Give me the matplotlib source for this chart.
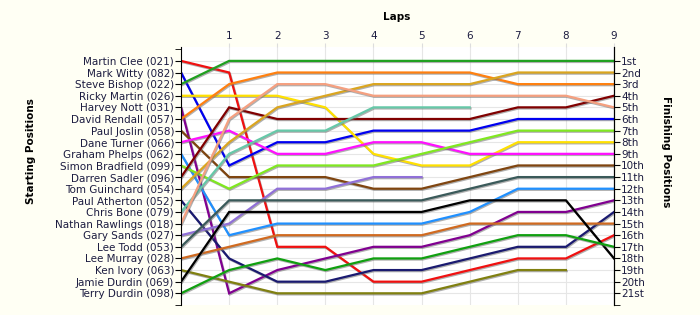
import numpy as np
import matplotlib
matplotlib.use("Agg")
from matplotlib import pyplot as plt
import matplotlib.patheffects as pe

# starting grid (top to bottom)
drivers = ["Martin Clee (021)", "Mark Witty (082)", "Steve Bishop (022)", "Ricky Martin (026)",
           "Harvey Nott (031)", "David Rendall (057)", "Paul Joslin (058)", "Dane Turner (066)",
           "Graham Phelps (062)", "Simon Bradfield (099)", "Darren Sadler (096)", "Tom Guinchard (054)",
           "Paul Atherton (052)", "Chris Bone (079)", "Nathan Rawlings (018)", "Gary Sands (027)",
           "Lee Todd (053)", "Lee Murray (028)", "Ken Ivory (063)", "Jamie Durdin (069)",
           "Terry Durdin (098)"]
finish_labels = ["1st", "2nd", "3rd", "4th", "5th", "6th", "7th", "8th", "9th", "10th", "11th",
                 "12th", "13th", "14th", "15th", "16th", "17th", "18th", "19th", "20th", "21st"]
laps = [1, 2, 3, 4, 5, 6, 7, 8, 9]

# position at lap 0..n for each driver (shorter list = retired)
clee = [1, 2, 17, 17, 20, 20, 19, 18, 18, 16]
witty = [2, 10, 8, 8, 7, 7, 7, 6, 6, 6]
bishop = [3, 1, 1, 1, 1, 1, 1, 1, 1, 1]
martin = [4, 4, 4, 5, 9, 10, 10, 8, 8, 8]
nott = [5, 21, 19, 18, 17, 17, 16, 14, 14, 13]
rendall = [6, 3, 2, 2, 2, 2, 2, 3, 3, 3]
joslin = [7, 11, 11, 11, 12, 12, 11, 10, 10, 10]
turner = [8, 7, 9, 9, 8, 8, 9, 9, 9, 9]
phelps = [9, 16, 15, 15, 15, 15, 14, 12, 12, 12]
bradfield = [10, 12, 10, 10, 10, 9, 8, 7, 7, 7]
sadler = [11, 5, 6, 6, 6, 6, 6, 5, 5, 4]
guinchard = [12, 8, 5, 4, 3, 3, 3, 2, 2, 2]
atherton = [13, 18, 20, 20, 19, 19, 18, 17, 17, 14]
bone = [14, 9, 7, 7, 5, 5, 5]
rawlings = [15, 6, 3, 3, 4, 4, 4, 4, 4, 5]
sands = [16, 15, 12, 12, 11, 11]
todd = [17, 13, 13, 13, 13, 13, 12, 11, 11, 11]
murray = [18, 17, 16, 16, 16, 16, 15, 15, 15, 15]
ivory = [19, 20, 21, 21, 21, 21, 20, 19, 19]
jdurdin = [20, 14, 14, 14, 14, 14, 13, 13, 13, 18]
tdurdin = [21, 19, 18, 19, 18, 18, 17, 16, 16, 17]

series = [clee, witty, bishop, martin, nott, rendall, joslin, turner, phelps, bradfield, sadler,
          guinchard, atherton, bone, rawlings, sands, todd, murray, ivory, jdurdin, tdurdin]
colors = ["#F01010", "#0000F0", "#20A020", "#FFE000", "#800090", "#FF8010", "#7F4510", "#FF10FF",
          "#2090FF", "#80E820", "#800000", "#DAA520", "#1A1A70", "#66C8A8", "#F5A080", "#9070D8",
          "#3A5A5A", "#D06A20", "#808010", "#000000", "#10A010"]

fig = plt.figure(figsize=(7, 3.15), dpi=100, facecolor="#FFFFF4")
ax = fig.add_axes([0.2586, 0.032, 0.6186, 0.819])
ax.set_facecolor("white")

for pos, c in zip(series, colors):
    ax.plot(range(len(pos)), pos, color=c, lw=1.6, solid_joinstyle="miter",
            path_effects=[pe.SimpleLineShadow(offset=(0.6, -0.8), shadow_color="#707070", alpha=0.55),
                          pe.Normal()])

ax.set_xlim(0, 9)
ax.set_ylim(22, -0.2)
ax.set_xticks(laps)
ax.set_xticklabels([str(l) for l in laps])
ax.xaxis.tick_top()
ax.set_yticks(range(1, 22))
ax.set_yticklabels(drivers)
ax.set_yticks([0, 22], minor=True)
ax.grid(True, color="#E6E6E6", lw=0.8)
ax.set_axisbelow(True)
for s in ["top", "bottom"]:
    ax.spines[s].set_visible(False)
ax.spines["left"].set_color("black")
ax.tick_params(axis="y", which="both", length=4, labelsize=7.5, labelcolor="#1C1C40", pad=1)
ax.tick_params(axis="x", length=3, labelsize=7.5, labelcolor="#1C1C40", pad=1, color="#DDDDDD")

ax2 = ax.twinx()
ax2.set_ylim(ax.get_ylim())
ax2.set_yticks(range(1, 22))
ax2.set_yticklabels(finish_labels)
ax2.set_yticks([22], minor=True)
ax2.tick_params(axis="y", which="both", length=4, labelsize=7.5, labelcolor="#1C1C40", pad=1)
for s in ["top", "bottom", "left"]:
    ax2.spines[s].set_visible(False)

fig.text(0.566, 0.945, "Laps", fontsize=7.5, fontweight="bold", ha="center", va="center")
fig.text(0.045, 0.52, "Starting Positions", fontsize=7.5, fontweight="bold", rotation=90,
         ha="center", va="center")
fig.text(0.952, 0.52, "Finishing Positions", fontsize=7.5, fontweight="bold", rotation=270,
         ha="center", va="center")

fig.savefig("out.png", dpi=100, facecolor=fig.get_facecolor())
